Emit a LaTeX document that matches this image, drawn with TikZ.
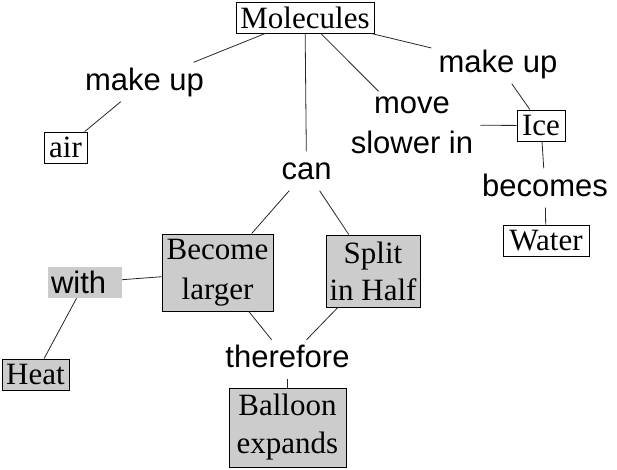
\documentclass[tikz,border=0pt]{standalone}
\usepackage{fontspec}
\setmainfont{Liberation Serif}
\setsansfont{Liberation Sans}
\definecolor{boxgray}{RGB}{204,204,204}
\definecolor{linegray}{RGB}{40,40,40}
\begin{document}
\begin{tikzpicture}[x=1pt,y=-1pt,
  concept/.style={draw=black, line width=0.9pt, inner sep=0pt, font=\fontsize{31}{38}\selectfont, align=center},
  whitebox/.style={concept, fill=white},
  graybox/.style={concept, fill=boxgray},
  linklabel/.style={font=\sffamily\fontsize{31}{40}\selectfont, inner xsep=7pt, inner ysep=5pt, text height=22.5pt, text depth=6.5pt, anchor=base},
  multilabel/.style={font=\sffamily\fontsize{31}{40}\selectfont, align=center, inner xsep=7pt, inner ysep=5pt},
  edge/.style={draw=linegray, line width=0.8pt}]
\useasboundingbox (0,0) rectangle (617,469);
\fill[white] (0,0) rectangle (617,469);

% concepts
\node[whitebox, minimum width=138pt, minimum height=31pt] (mol) at (305,17.5) {Molecules};
\node[whitebox, minimum width=43pt, minimum height=31pt] (air) at (65.5,147.5) {air};
\node[whitebox, minimum width=48pt, minimum height=31pt] (ice) at (541,125.5) {Ice};
\node[whitebox, minimum width=86pt, minimum height=31pt] (water) at (546,240.5) {Water};
\node[graybox, minimum width=111pt, minimum height=77pt] (larger) at (217.5,272.5) {Become\\[2pt]larger};
\node[graybox, minimum width=94pt, minimum height=72pt] (split) at (373,271) {Split\\[-1pt]in Half};
\node[graybox, minimum width=67pt, minimum height=31pt] (heat) at (35.5,374.5) {Heat};
\node[graybox, minimum width=117pt, minimum height=79pt] (balloon) at (287.5,427.5) {Balloon\\expands};

% linking phrases
\node[linklabel] (mkL) at (144.5,90) {make up};
\node[linklabel] (mkR) at (498,72) {make up};
\node[linklabel] (can) at (306.5,179) {can};
\node[linklabel] (becomes) at (545,196) {becomes};
\node[linklabel] (therefore) at (287.5,367.5) {therefore};
\node[multilabel] (move) at (412,125) {move\\slower in};
\node[font=\sffamily\fontsize{31}{40}\selectfont, fill=boxgray, text width=68pt, align=left,
      inner xsep=3pt, inner ysep=0pt, text height=26.3pt, text depth=4.7pt] (with) at (85,282.5) {with};

% connectors
\draw[edge] (mol) -- (mkL);
\draw[edge] (mkL) -- (air);
\draw[edge] (mol) -- (can);
\draw[edge] (mol) -- (move);
\draw[edge] (mol) -- (mkR);
\draw[edge] (mkR) -- (ice);
\draw[edge] (move) -- (ice);
\draw[edge] (ice) -- (becomes);
\draw[edge] (becomes) -- (water);
\draw[edge] (can) -- (larger);
\draw[edge] (can) -- (split);
\draw[edge] (with) -- (larger);
\draw[edge] (with) -- (heat);
\draw[edge] (larger) -- (therefore);
\draw[edge] (split) -- (therefore);
\draw[edge] (therefore) -- (balloon);
\end{tikzpicture}
\end{document}
